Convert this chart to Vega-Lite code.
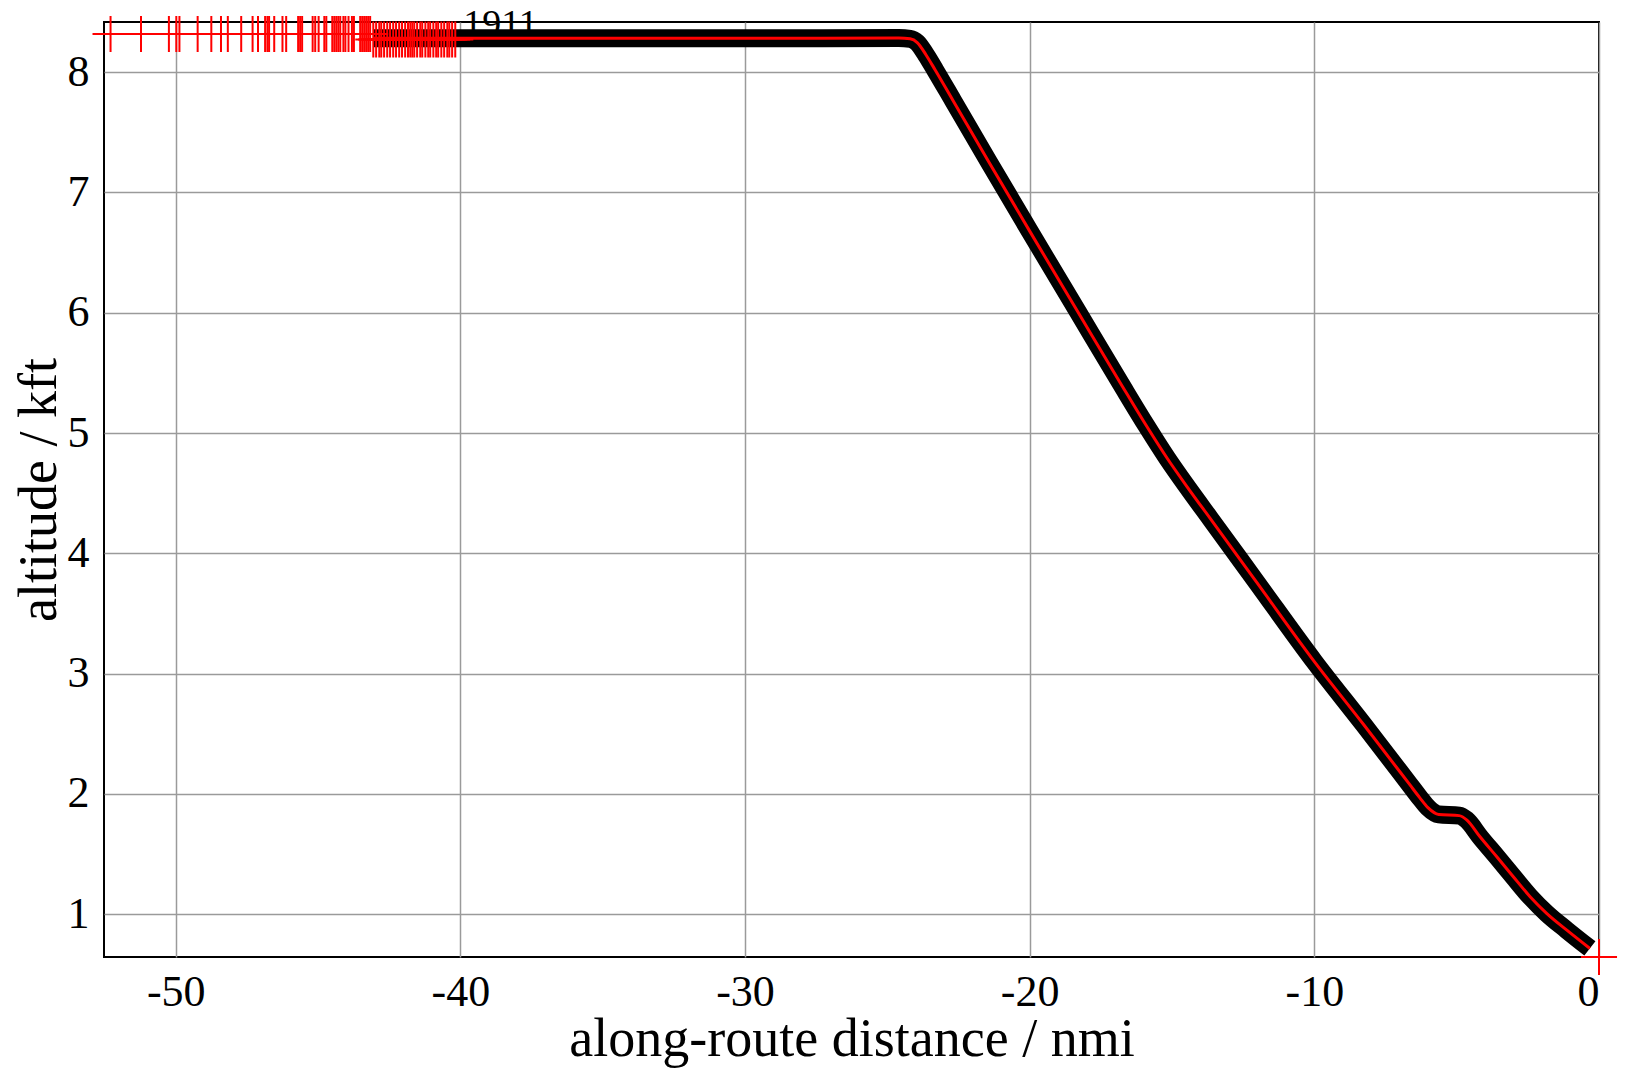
{
  "$schema": "https://vega.github.io/schema/vega-lite/v6.json",
  "autosize": {"type": "none"},
  "padding": {"left": 104, "top": 22, "right": 26, "bottom": 115},
  "width": 1495,
  "height": 935,
  "background": "white",
  "config": {
    "view": {"stroke": "black", "strokeWidth": 2},
    "font": "Liberation Serif",
    "axis": {
      "labelFont": "Liberation Serif",
      "titleFont": "Liberation Serif",
      "labelFontSize": 44,
      "titleFontSize": 54,
      "labelColor": "black",
      "titleColor": "black",
      "titleFontWeight": "normal",
      "domain": false,
      "ticks": false,
      "grid": true,
      "gridColor": "#9a9a9a",
      "gridWidth": 1.5,
      "gridOpacity": 1,
      "labelExpr": "'' + datum.value"
    }
  },
  "datasets": {
    "track": [
      {"d": -43.06, "alt": 8.28},
      {"d": -30.0, "alt": 8.28},
      {"d": -24.6, "alt": 8.283},
      {"d": -24.2, "alt": 8.276},
      {"d": -23.95, "alt": 8.245},
      {"d": -23.64, "alt": 8.142},
      {"d": -23.32, "alt": 8.017},
      {"d": -22.7, "alt": 7.766},
      {"d": -21.44, "alt": 7.255},
      {"d": -20.0, "alt": 6.678},
      {"d": -18.31, "alt": 6.008},
      {"d": -16.8, "alt": 5.41},
      {"d": -15.9, "alt": 5.06},
      {"d": -15.17, "alt": 4.79},
      {"d": -14.4, "alt": 4.53},
      {"d": -13.66, "alt": 4.29},
      {"d": -12.03, "alt": 3.76},
      {"d": -10.0, "alt": 3.1},
      {"d": -8.27, "alt": 2.577},
      {"d": -6.64, "alt": 2.075},
      {"d": -6.3, "alt": 1.97},
      {"d": -6.01, "alt": 1.887},
      {"d": -5.63, "alt": 1.83},
      {"d": -4.91, "alt": 1.82},
      {"d": -4.65, "alt": 1.785},
      {"d": -4.18, "alt": 1.644},
      {"d": -3.59, "alt": 1.478},
      {"d": -3.01, "alt": 1.312},
      {"d": -2.42, "alt": 1.146},
      {"d": -1.84, "alt": 1.008},
      {"d": -1.13, "alt": 0.868},
      {"d": -0.32, "alt": 0.716}
    ],
    "fixes": [
      {"d": -52.29, "alt": 8.316}, {"d": -51.22, "alt": 8.316}, {"d": -50.24, "alt": 8.316},
      {"d": -49.98, "alt": 8.316}, {"d": -49.87, "alt": 8.316}, {"d": -49.23, "alt": 8.316},
      {"d": -48.75, "alt": 8.316}, {"d": -48.41, "alt": 8.316}, {"d": -48.17, "alt": 8.316},
      {"d": -47.7, "alt": 8.316}, {"d": -47.3, "alt": 8.316}, {"d": -47.11, "alt": 8.316},
      {"d": -46.86, "alt": 8.316}, {"d": -46.78, "alt": 8.316}, {"d": -46.72, "alt": 8.316},
      {"d": -46.54, "alt": 8.316}, {"d": -46.25, "alt": 8.316}, {"d": -46.12, "alt": 8.316},
      {"d": -45.7, "alt": 8.316}, {"d": -45.63, "alt": 8.316}, {"d": -45.56, "alt": 8.316},
      {"d": -45.19, "alt": 8.316}, {"d": -45.1, "alt": 8.316}, {"d": -44.98, "alt": 8.316},
      {"d": -44.78, "alt": 8.316}, {"d": -44.71, "alt": 8.316}, {"d": -44.5, "alt": 8.316},
      {"d": -44.43, "alt": 8.316}, {"d": -44.36, "alt": 8.316}, {"d": -44.29, "alt": 8.316},
      {"d": -44.22, "alt": 8.316}, {"d": -44.11, "alt": 8.316}, {"d": -44.04, "alt": 8.316},
      {"d": -43.93, "alt": 8.316}, {"d": -43.81, "alt": 8.316}, {"d": -43.74, "alt": 8.316},
      {"d": -43.52, "alt": 8.316}, {"d": -43.45, "alt": 8.316}, {"d": -43.38, "alt": 8.316},
      {"d": -43.31, "alt": 8.316}, {"d": -43.24, "alt": 8.316}, {"d": -43.17, "alt": 8.316},
      {"d": -43.06, "alt": 8.27}, {"d": -42.96, "alt": 8.27}, {"d": -42.85, "alt": 8.27},
      {"d": -42.78, "alt": 8.27}, {"d": -42.68, "alt": 8.27}, {"d": -42.57, "alt": 8.27},
      {"d": -42.47, "alt": 8.27}, {"d": -42.36, "alt": 8.27}, {"d": -42.26, "alt": 8.27},
      {"d": -42.15, "alt": 8.27}, {"d": -42.05, "alt": 8.27}, {"d": -41.94, "alt": 8.27},
      {"d": -41.84, "alt": 8.27}, {"d": -41.76, "alt": 8.27}, {"d": -41.69, "alt": 8.27},
      {"d": -41.62, "alt": 8.27}, {"d": -41.52, "alt": 8.27}, {"d": -41.41, "alt": 8.27},
      {"d": -41.34, "alt": 8.27}, {"d": -41.23, "alt": 8.27}, {"d": -41.13, "alt": 8.27},
      {"d": -41.06, "alt": 8.27}, {"d": -40.95, "alt": 8.27}, {"d": -40.85, "alt": 8.27},
      {"d": -40.78, "alt": 8.27}, {"d": -40.67, "alt": 8.27}, {"d": -40.57, "alt": 8.27},
      {"d": -40.46, "alt": 8.27}, {"d": -40.39, "alt": 8.27}, {"d": -40.29, "alt": 8.27},
      {"d": -40.18, "alt": 8.27},
      {"d": 0.0, "alt": 0.645}
    ],
    "labels": [
      {"d": -40.18, "alt": 8.27, "label": "1911"}
    ]
  },
  "encoding": {
    "x": {
      "field": "d", "type": "quantitative",
      "scale": {"domain": [-52.52, 0], "nice": false, "zero": false},
      "axis": {"values": [-50, -40, -30, -20, -10, 0], "title": "along-route distance / nmi", "labelPadding": 13, "titleBaseline": "alphabetic", "titleY": 98}
    },
    "y": {
      "field": "alt", "type": "quantitative",
      "scale": {"domain": [0.645, 8.416], "nice": false, "zero": false},
      "axis": {"values": [1, 2, 3, 4, 5, 6, 7, 8], "title": "altitude / kft", "labelPadding": 15, "titleBaseline": "alphabetic", "titleX": -49}
    }
  },
  "layer": [
    {
      "data": {"name": "track"},
      "mark": {"type": "line", "color": "black", "strokeWidth": 18, "strokeCap": "butt", "strokeJoin": "round", "interpolate": "monotone"}
    },
    {
      "data": {"name": "track"},
      "mark": {"type": "line", "color": "red", "strokeWidth": 3, "strokeCap": "butt", "strokeJoin": "round", "interpolate": "monotone"}
    },
    {
      "data": {"name": "fixes"},
      "mark": {"type": "point", "shape": "M-1,0L1,0M0,-1L0,1", "filled": false, "stroke": "red", "strokeWidth": 2, "size": 1300, "opacity": 1}
    },
    {
      "data": {"name": "labels"},
      "mark": {"type": "text", "align": "left", "baseline": "alphabetic", "dx": 8, "dy": -4, "fontSize": 38, "font": "Liberation Serif", "color": "black"},
      "encoding": {"text": {"field": "label"}}
    }
  ]
}
